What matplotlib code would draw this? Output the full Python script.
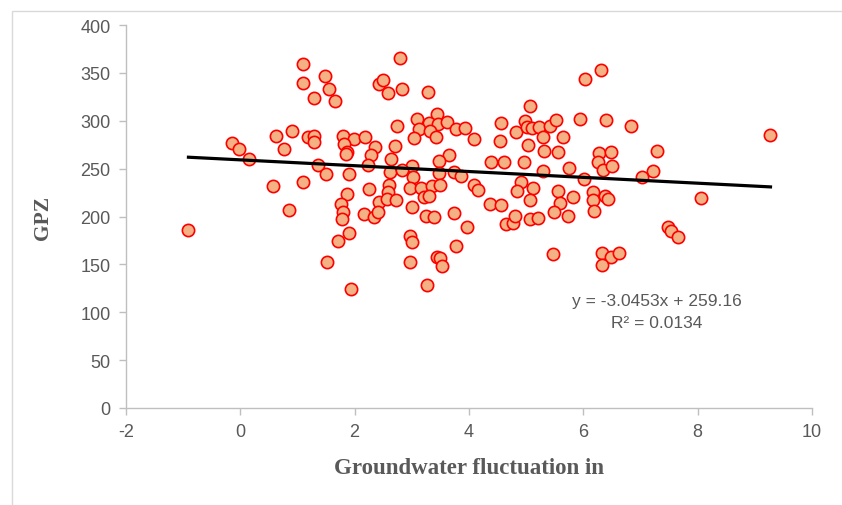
import matplotlib.pyplot as plt
from matplotlib.patches import Rectangle

plt.rcParams['axes.unicode_minus'] = False

# Groundwater fluctuation (x) against GPZ (y)
fluttuazione = [
    1.100, 1.479, 1.100, 1.549, 1.281, 1.654, 2.421, 2.496, -0.153, -0.023,
    0.146, 0.626, 0.912, 0.767, 1.188, 1.281, 1.281, 1.802, 1.988, 2.175,
    1.812, 1.872, 1.842, 2.351, 2.293, 2.228, 1.351, 1.496, 1.895, 0.579,
    1.100, 1.860, 2.251, -0.907, 0.860, 1.767, 1.802, 1.784, 2.163, 2.339,
    2.426, 1.900, 1.702, 1.509, 1.935, 2.749, 2.707, 2.632, 2.614, 2.596,
    2.591, 2.574, 2.719, 2.409, 2.795, 2.584, 2.830, 3.281, 5.070, 6.023,
    3.088, 3.444, 3.293, 3.461, 3.614, 3.118, 3.321, 3.426, 3.030, 3.772,
    3.935, 4.082, 3.649, 3.474, 3.012, 2.825, 3.018, 3.474, 3.732, 3.865,
    4.561, 4.549, 4.386, 4.609, 4.825, 4.982, 5.012, 5.111, 5.223, 5.421,
    5.521, 5.293, 5.035, 5.311, 5.561, 5.649, 4.965, 5.293, 5.749, 5.935,
    2.970, 3.163, 3.351, 3.486, 4.093, 4.153, 4.907, 4.847, 5.118, 5.556,
    5.825, 3.000, 3.216, 3.293, 3.246, 3.391, 3.732, 3.965, 2.970, 4.374,
    4.567, 5.070, 5.596, 5.486, 5.737, 6.018, 6.167, 6.167, 6.181, 6.281,
    6.263, 6.342, 4.644, 4.772, 4.807, 5.065, 5.211, 3.012, 3.772, 2.970,
    3.439, 3.496, 3.532, 3.263, 5.468, 6.316, 6.398, 6.837, 9.275, 7.298,
    6.479, 6.496, 7.223, 7.035, 6.374, 6.433, 8.058, 7.486, 7.526, 7.661,
    6.333, 6.491, 6.626, 6.333,
]
gpz = [
    359.3, 346.4, 339.1, 333.2, 324.1, 320.6, 338.1, 342.6, 277.1, 270.2,
    260.1, 283.8, 289.0, 270.8, 283.0, 284.4, 277.5, 283.8, 280.9, 283.3,
    275.4, 267.7, 265.3, 272.9, 264.5, 253.5, 254.1, 244.7, 244.7, 231.5,
    235.7, 223.8, 228.7, 186.2, 206.8, 213.1, 204.4, 197.4, 202.6, 199.2,
    214.8, 183.1, 174.1, 152.5, 124.6, 294.2, 273.9, 260.1, 246.8, 232.9,
    225.9, 218.8, 217.5, 204.4, 365.2, 329.0, 332.8, 330.3, 315.4, 343.6,
    301.8, 306.7, 297.7, 296.6, 299.0, 291.1, 289.3, 283.3, 282.0, 291.4,
    292.1, 280.9, 264.2, 257.7, 253.1, 248.3, 241.3, 245.4, 246.8, 242.6,
    297.3, 278.5, 257.2, 256.6, 287.9, 300.1, 293.8, 292.1, 293.2, 294.2,
    300.8, 283.3, 274.7, 268.7, 267.0, 282.7, 257.2, 247.8, 250.7, 301.5,
    230.1, 229.5, 231.5, 232.9, 232.9, 228.0, 235.7, 226.9, 229.5, 226.9,
    220.1, 210.2, 220.1, 221.7, 200.8, 199.8, 203.7, 188.7, 179.9, 212.7,
    212.0, 217.2, 213.8, 204.4, 200.8, 238.9, 225.6, 217.2, 206.1, 266.6,
    257.2, 248.3, 192.2, 192.9, 201.0, 197.1, 198.7, 173.7, 168.9, 152.2,
    157.4, 156.3, 148.3, 128.8, 160.8, 353.0, 300.8, 294.5, 285.1, 268.7,
    267.0, 253.1, 247.8, 240.9, 221.7, 218.3, 219.3, 189.3, 185.2, 178.3,
    161.6, 158.0, 161.6, 149.7,
]

# trendline as reported in the chart
pendenza = -3.0453
intercetta = 259.16
r_quadro = 0.0134

x_ticks = [-2, 0, 2, 4, 6, 8, 10]
y_ticks = [0, 50, 100, 150, 200, 250, 300, 350, 400]

grigio = '#595959'
linea_asse = '#BFBFBF'

fig = plt.figure(figsize=(8.42, 5.06), dpi=100)
ax = fig.add_axes([0.1496, 0.1917, 0.8147, 0.7569])

# cornice esterna stile Excel
fig.patches.append(Rectangle((12 / 842, -0.1), 1.2, (506 - 12) / 506 + 0.1,
                             transform=fig.transFigure, fill=False,
                             edgecolor='#D9D9D9', linewidth=1.0))

ax.scatter(fluttuazione, gpz, s=78, facecolors='#F4B183', edgecolors='#FF0000',
           linewidths=1.2, zorder=3)

x0, x1 = min(fluttuazione), max(fluttuazione)
ax.plot([x0, x1], [pendenza * x0 + intercetta, pendenza * x1 + intercetta],
        color='black', linewidth=2.3, zorder=4)

ax.text(7.28, 101, 'y = %.4fx + %.2f\nR² = %.4f' % (pendenza, intercetta, r_quadro),
        ha='center', va='center', fontsize=12.5, color=grigio,
        family='Liberation Sans', linespacing=1.55)

ax.set_xlim(-2, 10)
ax.set_ylim(0, 400)
ax.set_xticks(x_ticks)
ax.set_yticks(y_ticks)
for spine in ['top', 'right']:
    ax.spines[spine].set_visible(False)
for spine in ['left', 'bottom']:
    ax.spines[spine].set_color(linea_asse)
    ax.spines[spine].set_linewidth(1.0)
ax.tick_params(axis='both', colors=linea_asse, length=5, width=1.0,
               labelcolor=grigio, labelsize=13, pad=6)
for lab in ax.get_xticklabels() + ax.get_yticklabels():
    lab.set_family('Liberation Sans')

ax.set_xlabel('Groundwater fluctuation in', fontsize=16.5, fontweight='bold',
              color=grigio, family='Liberation Serif', labelpad=12)
ax.set_ylabel('GPZ', fontsize=15.5, fontweight='bold', color=grigio,
              family='Liberation Serif', labelpad=20)

fig.savefig('out.png', dpi=100)
